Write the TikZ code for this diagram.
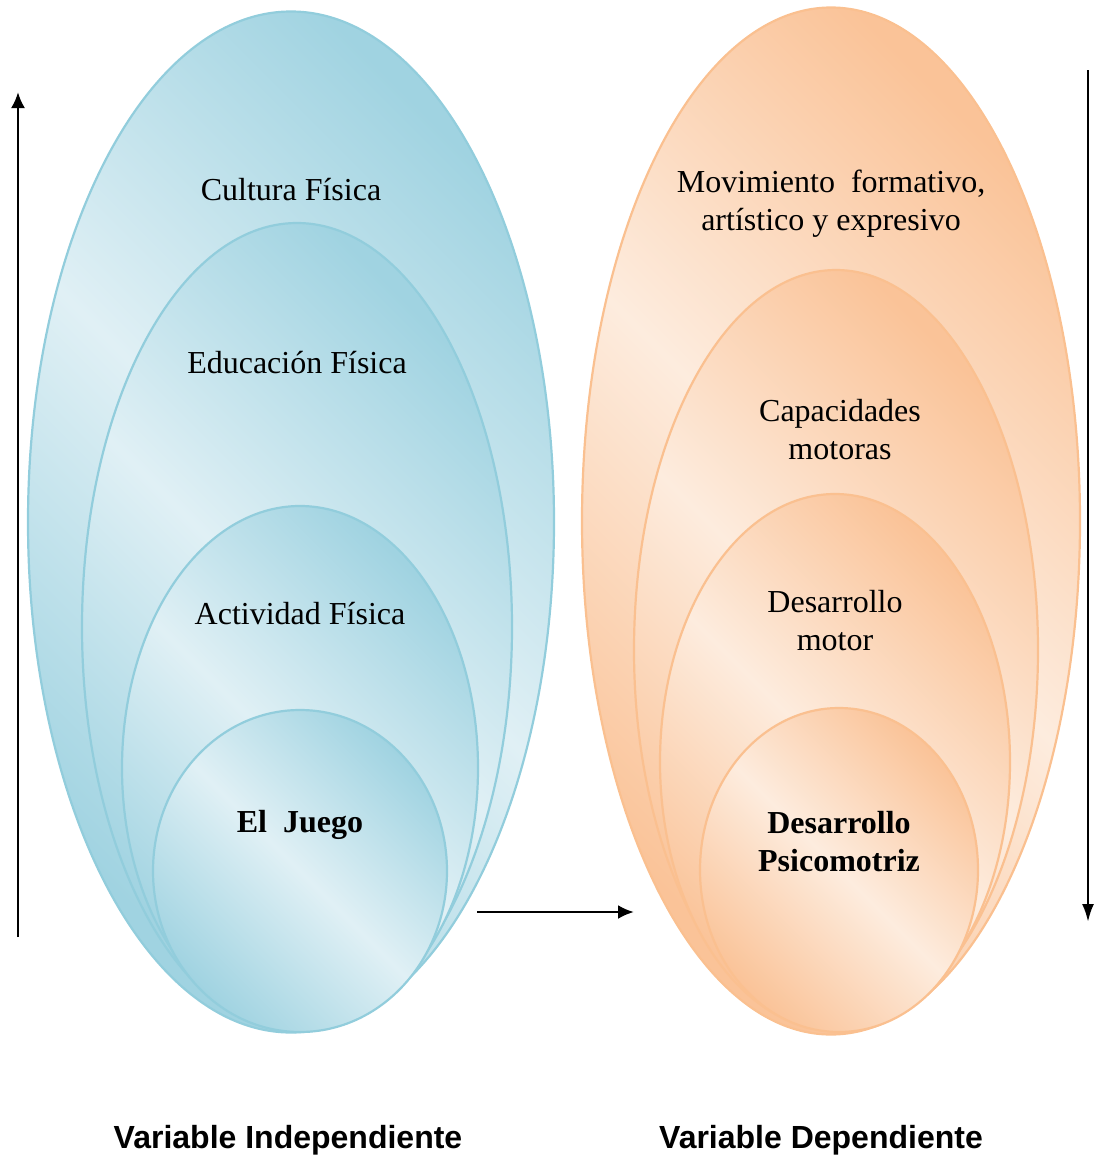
\documentclass[tikz,border=0pt]{standalone}
\usepackage{fontspec}
\setmainfont{Liberation Serif}
\setsansfont{Liberation Sans}
\usetikzlibrary{shapes.geometric, arrows.meta, positioning}

\begin{document}
\begin{tikzpicture}[x=1pt, y=-1pt, >={Latex[length=16pt, width=14pt]},
    blueell/.style={ellipse, draw=blueline, line width=2.2pt, inner sep=0pt,
        left color=bluedark, right color=bluedark, middle color=bluelight, shading angle=135},
    orangeell/.style={ellipse, draw=orangeline, line width=2.2pt, inner sep=0pt,
        left color=orangedark, right color=orangedark, middle color=orangelight, shading angle=135},
    txt/.style={font=\fontsize{32}{38}\selectfont, align=center},
    btxt/.style={txt, font=\fontsize{32}{38}\selectfont\bfseries},
    vtxt/.style={font=\fontsize{32}{38}\selectfont\sffamily\bfseries},
    arr/.style={->, line width=2.6pt}]
    \definecolor{bluedark}{RGB}{160,211,225}
    \definecolor{bluelight}{RGB}{224,240,245}
    \definecolor{blueline}{RGB}{146,205,220}
    \definecolor{orangedark}{RGB}{250,195,152}
    \definecolor{orangelight}{RGB}{253,236,222}
    \definecolor{orangeline}{RGB}{250,192,144}
    \useasboundingbox (0,0) rectangle (1093,1159);

    % Variable independiente
    \node [blueell, minimum width=526pt, minimum height=1021pt] (cult) at (291,522) {};
    \node [blueell, minimum width=430pt, minimum height=808pt] (edu) at (297,627) {};
    \node [blueell, minimum width=356pt, minimum height=524pt] (act) at (300,768) {};
    \node [blueell, minimum width=294pt, minimum height=322pt] (juego) at (300,871) {};

    \node [txt] (tcult) at (291,190) {Cultura Física};
    \node [txt] (tedu) at (297,363) {Educación Física};
    \node [txt] (tact) at (300,614) {Actividad Física};
    \node [btxt] (tjuego) at (300,825) {El~~Juego};

    % Variable dependiente
    \node [orangeell, minimum width=498pt, minimum height=1027pt] (mov) at (831,521) {};
    \node [orangeell, minimum width=404pt, minimum height=760pt] (cap) at (836,650) {};
    \node [orangeell, minimum width=350pt, minimum height=536pt] (mot) at (835,762) {};
    \node [orangeell, minimum width=278pt, minimum height=324pt] (psi) at (839,870) {};

    \node [txt] (tmov) at (831,204) {Movimiento~~formativo,\\artístico y expresivo};
    \node [txt] (tcap) at (840,430) {Capacidades\\motoras};
    \node [txt] (tmot) at (835,621) {Desarrollo\\motor};
    \node [btxt] (tpsi) at (839,842) {Desarrollo\\Psicomotriz};

    % Flechas
    \coordinate (lb) at (18,937);
    \coordinate (lt) at (18,92);
    \coordinate (rt) at (1088,70);
    \coordinate (rb) at (1088,922);
    \coordinate (ma) at (477,912);
    \coordinate (mb) at (634,912);
    \draw [arr] (lb) -- (lt);
    \draw [arr, >={Latex[length=18pt, width=12pt]}] (rt) -- (rb);
    \draw [arr] (ma) -- (mb);

    % Etiquetas
    \node [vtxt] (vind) at (288,1140) {Variable Independiente};
    \node [vtxt] (vdep) at (821,1140) {Variable Dependiente};

\end{tikzpicture}
\end{document}
